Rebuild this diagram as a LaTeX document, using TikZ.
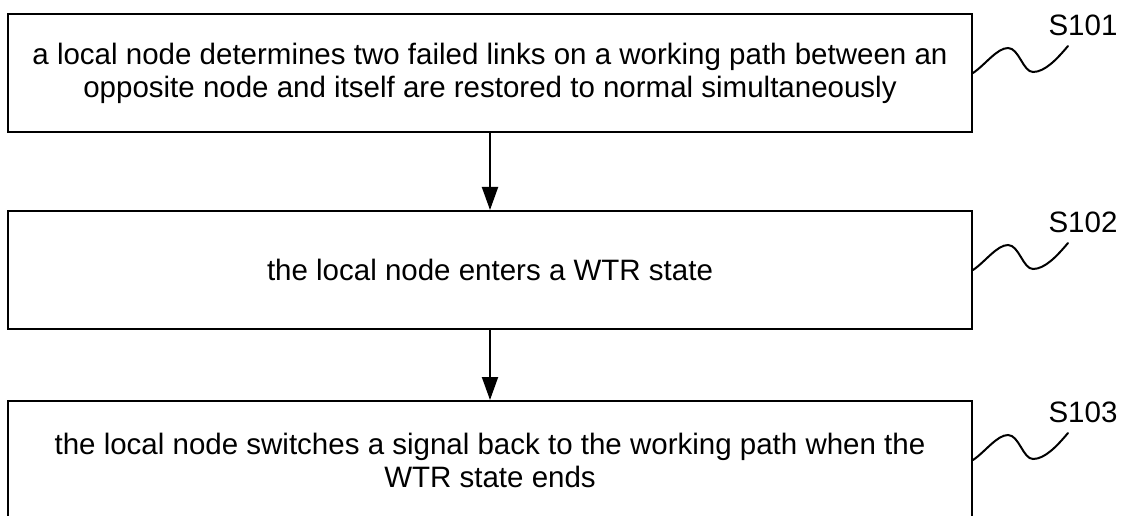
\documentclass[tikz,border=0pt]{standalone}
\usepackage{fontspec}
\setmainfont{Liberation Sans}
\usetikzlibrary{arrows.meta}

\tikzset{
  stepbox/.style={draw, line width=2pt, rectangle, minimum width=964pt,
    minimum height=118pt, align=center, inner sep=0pt,
    font=\fontsize{29.5pt}{33pt}\selectfont},
  flow/.style={line width=2pt, -{Triangle[length=23pt,width=16pt]}},
  steplabel/.style={font=\fontsize{29.5pt}{33pt}\selectfont, inner sep=0pt},
  wave/.pic={
    \draw[line width=2pt, line cap=round]
      (0,0) .. controls (12,-8) and (24,-25) .. (35,-25)
            .. controls (46,-25) and (50,-1) .. (60,-1)
            .. controls (72,-1) and (84,-14) .. (95,-27);
    \coordinate (-end) at (95,-27);
  }
}

\begin{document}
\begin{tikzpicture}[x=1pt,y=-1pt]
  \useasboundingbox (0,0) rectangle (1125,516);
  \clip (0,0) rectangle (1125,516);

  % process steps
  \node[stepbox] (b1) at (490,73)
    {a local node determines two failed links on a working path between an\\
     opposite node and itself are restored to normal simultaneously};
  \node[stepbox] (b2) at (490,270) {the local node enters a WTR state};
  \node[stepbox] (b3) at (490,460)
    {the local node switches a signal back to the working path when the\\
     WTR state ends};

  % flow between steps
  \draw[flow] (b1) -- (b2);
  \draw[flow] (b2) -- (b3);

  % step markers
  \pic (w1) at (b1.east) {wave};
  \pic (w2) at (b2.east) {wave};
  \pic (w3) at (b3.east) {wave};
  \node[steplabel] at ([shift={(15,-21)}]w1-end) {S101};
  \node[steplabel] at ([shift={(15,-21)}]w2-end) {S102};
  \node[steplabel] at ([shift={(15,-21)}]w3-end) {S103};
\end{tikzpicture}
\end{document}
